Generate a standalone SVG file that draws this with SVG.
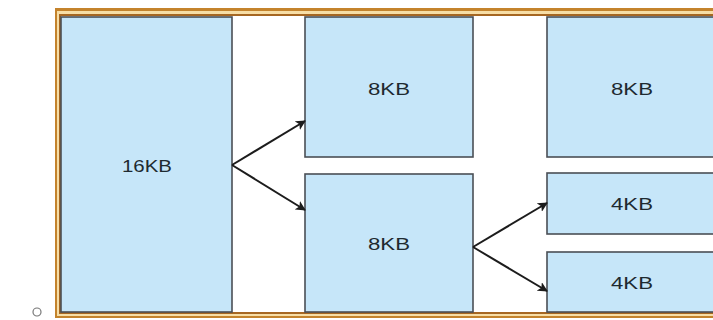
<svg xmlns="http://www.w3.org/2000/svg" width="713" height="320" viewBox="0 0 713 320">
<defs>
<style>
.blk{fill:#c6e6f9;stroke:#4a4f55;stroke-width:1.6}
.lbl{font-family:"Liberation Sans",Arial,sans-serif;font-size:17px;fill:#1e2a30;text-anchor:middle}
.arr{stroke:#1c1c1c;stroke-width:2;fill:none;marker-end:url(#ah)}
</style>
<marker id="ah" viewBox="0 0 10 10" refX="9" refY="5" markerWidth="5" markerHeight="5" orient="auto" markerUnits="strokeWidth">
<path d="M0,0 L10,5 L0,10 L2.5,5 z" fill="#1c1c1c"/>
</marker>
</defs>
<rect width="713" height="320" fill="#ffffff"/>
<g id="frame">
<rect x="55" y="8" width="710" height="310" fill="#c4832c"/>
<rect x="57" y="11" width="710" height="305" fill="#f7dea6"/>
<rect x="59" y="14" width="710" height="300" fill="#a66722"/>
<rect x="61" y="16" width="710" height="296" fill="#ffffff"/>
</g>
<g id="n16">
<rect class="blk" x="61" y="17" width="171" height="295"/>
<text class="lbl" x="147" y="172" textLength="50" lengthAdjust="spacingAndGlyphs">16KB</text>
</g>
<g id="n8a">
<rect class="blk" x="305" y="17" width="168" height="140"/>
<text class="lbl" x="389" y="95" textLength="42" lengthAdjust="spacingAndGlyphs">8KB</text>
</g>
<g id="n8b">
<rect class="blk" x="305" y="174" width="168" height="138"/>
<text class="lbl" x="389" y="250" textLength="42" lengthAdjust="spacingAndGlyphs">8KB</text>
</g>
<g id="n8c">
<rect class="blk" x="547" y="17" width="170" height="140"/>
<text class="lbl" x="632" y="95" textLength="42" lengthAdjust="spacingAndGlyphs">8KB</text>
</g>
<g id="n4a">
<rect class="blk" x="547" y="173" width="170" height="61"/>
<text class="lbl" x="632" y="210" textLength="42" lengthAdjust="spacingAndGlyphs">4KB</text>
</g>
<g id="n4b">
<rect class="blk" x="547" y="252" width="170" height="60"/>
<text class="lbl" x="632" y="289" textLength="42" lengthAdjust="spacingAndGlyphs">4KB</text>
</g>
<g id="connectors">
<line class="arr" x1="232" y1="165" x2="305" y2="121"/>
<line class="arr" x1="232" y1="165" x2="305" y2="210"/>
<line class="arr" x1="473" y1="247" x2="547" y2="203"/>
<line class="arr" x1="473" y1="247" x2="547" y2="291"/>
</g>
<circle cx="37" cy="312" r="4" fill="none" stroke="#777" stroke-width="1.2"/>
</svg>
